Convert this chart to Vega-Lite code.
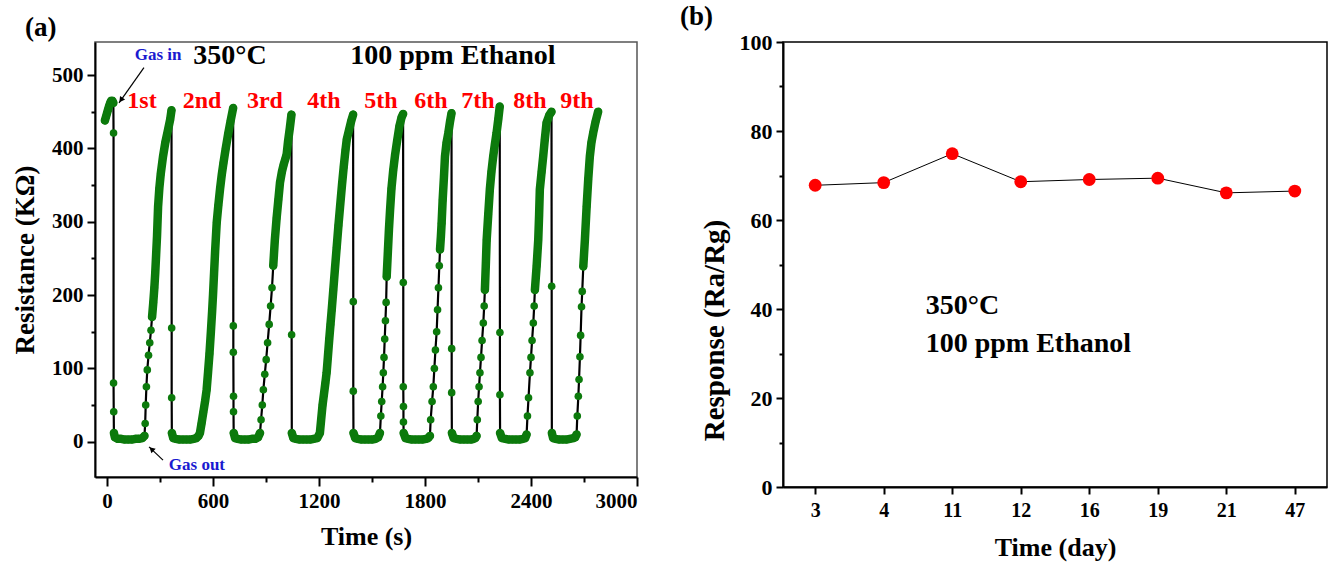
{
  "$schema": "https://vega.github.io/schema/vega-lite/v6.json",
  "background": "white",
  "padding": {"left": 10, "top": 2, "right": 5, "bottom": 5},
  "spacing": 146,
  "bounds": "flush",
  "datasets": {
    "res": [
      {"t":-12,"r":438,"s":1},{"t":-6,"r":443,"s":1},{"t":0,"r":448,"s":1},{"t":6,"r":453,"s":1},{"t":12,"r":458,"s":1},{"t":18,"r":462,"s":1},{"t":24,"r":465,"s":1},{"t":30,"r":465,"s":1},{"t":36,"r":462,"s":1},
      {"t":37,"r":421,"s":0},{"t":37,"r":80,"s":0},{"t":38,"r":41,"s":0},
      {"t":39,"r":12,"s":2},{"t":45,"r":6,"s":2},{"t":60,"r":4,"s":2},{"t":80,"r":4,"s":2},{"t":100,"r":3,"s":2},{"t":120,"r":3,"s":2},{"t":140,"r":3,"s":2},{"t":160,"r":4,"s":2},{"t":180,"r":4,"s":2},{"t":200,"r":5,"s":2},{"t":212,"r":8,"s":2},
      {"t":216,"r":25,"s":0},{"t":219,"r":50,"s":0},{"t":223,"r":75,"s":0},{"t":228,"r":98,"s":0},{"t":235,"r":118,"s":0},{"t":242,"r":135,"s":0},{"t":249,"r":152,"s":0},
      {"t":255,"r":170,"s":3},{"t":262,"r":190,"s":3},{"t":268,"r":210,"s":3},{"t":273,"r":230,"s":3},{"t":278,"r":255,"s":3},{"t":283,"r":280,"s":3},{"t":289,"r":320,"s":3},{"t":296,"r":345,"s":3},{"t":304,"r":365,"s":3},{"t":317,"r":389,"s":3},{"t":330,"r":408,"s":3},{"t":345,"r":425,"s":3},{"t":358,"r":440,"s":3},{"t":365,"r":452,"s":3},
      {"t":366,"r":155,"s":0},{"t":366,"r":60,"s":0},
      {"t":367,"r":12,"s":4},{"t":375,"r":5,"s":4},{"t":390,"r":4,"s":4},{"t":410,"r":3,"s":4},{"t":430,"r":3,"s":4},{"t":450,"r":3,"s":4},{"t":470,"r":3,"s":4},{"t":490,"r":4,"s":4},{"t":505,"r":5,"s":4},{"t":518,"r":8,"s":4},{"t":526,"r":12,"s":4},{"t":535,"r":25,"s":4},{"t":545,"r":40,"s":4},{"t":555,"r":55,"s":4},{"t":564,"r":71,"s":4},{"t":572,"r":95,"s":4},{"t":580,"r":120,"s":4},{"t":588,"r":150,"s":4},{"t":595,"r":178,"s":4},{"t":600,"r":200,"s":4},{"t":606,"r":230,"s":4},{"t":612,"r":260,"s":4},{"t":621,"r":299,"s":4},{"t":630,"r":322,"s":4},{"t":640,"r":345,"s":4},{"t":650,"r":365,"s":4},{"t":659,"r":380,"s":4},{"t":672,"r":400,"s":4},{"t":686,"r":420,"s":4},{"t":700,"r":438,"s":4},{"t":714,"r":455,"s":4},
      {"t":715,"r":158,"s":0},{"t":715,"r":122,"s":0},{"t":716,"r":62,"s":0},{"t":716,"r":41,"s":0},
      {"t":717,"r":12,"s":6},{"t":725,"r":5,"s":6},{"t":740,"r":4,"s":6},{"t":760,"r":3,"s":6},{"t":780,"r":3,"s":6},{"t":800,"r":3,"s":6},{"t":820,"r":4,"s":6},{"t":840,"r":4,"s":6},{"t":855,"r":6,"s":6},{"t":866,"r":12,"s":6},
      {"t":872,"r":30,"s":0},{"t":879,"r":50,"s":0},{"t":885,"r":71,"s":0},{"t":893,"r":92,"s":0},{"t":901,"r":112,"s":0},{"t":909,"r":135,"s":0},{"t":918,"r":160,"s":0},{"t":926,"r":185,"s":0},{"t":934,"r":210,"s":0},
      {"t":941,"r":240,"s":7},{"t":950,"r":275,"s":7},{"t":960,"r":305,"s":7},{"t":970,"r":330,"s":7},{"t":979,"r":353,"s":7},{"t":990,"r":368,"s":7},{"t":1000,"r":378,"s":7},{"t":1010,"r":386,"s":7},{"t":1017,"r":392,"s":7},{"t":1025,"r":410,"s":7},{"t":1035,"r":428,"s":7},{"t":1044,"r":446,"s":7},
      {"t":1045,"r":146,"s":0},
      {"t":1046,"r":12,"s":8},{"t":1055,"r":5,"s":8},{"t":1070,"r":4,"s":8},{"t":1090,"r":3,"s":8},{"t":1110,"r":3,"s":8},{"t":1130,"r":3,"s":8},{"t":1150,"r":3,"s":8},{"t":1170,"r":4,"s":8},{"t":1190,"r":5,"s":8},{"t":1205,"r":12,"s":8},{"t":1212,"r":30,"s":8},{"t":1220,"r":50,"s":8},{"t":1228,"r":65,"s":8},{"t":1236,"r":80,"s":8},{"t":1243,"r":94,"s":8},{"t":1250,"r":115,"s":8},{"t":1258,"r":140,"s":8},{"t":1265,"r":160,"s":8},{"t":1272,"r":180,"s":8},{"t":1281,"r":207,"s":8},{"t":1290,"r":235,"s":8},{"t":1300,"r":265,"s":8},{"t":1310,"r":295,"s":8},{"t":1319,"r":320,"s":8},{"t":1330,"r":350,"s":8},{"t":1340,"r":375,"s":8},{"t":1350,"r":398,"s":8},{"t":1357,"r":412,"s":8},{"t":1370,"r":425,"s":8},{"t":1382,"r":437,"s":8},{"t":1393,"r":446,"s":8},
      {"t":1394,"r":191,"s":0},{"t":1394,"r":69,"s":0},
      {"t":1395,"r":12,"s":10},{"t":1405,"r":5,"s":10},{"t":1420,"r":4,"s":10},{"t":1440,"r":3,"s":10},{"t":1460,"r":3,"s":10},{"t":1480,"r":3,"s":10},{"t":1500,"r":3,"s":10},{"t":1520,"r":4,"s":10},{"t":1535,"r":6,"s":10},{"t":1545,"r":12,"s":10},
      {"t":1550,"r":35,"s":0},{"t":1555,"r":55,"s":0},{"t":1560,"r":75,"s":0},{"t":1564,"r":94,"s":0},{"t":1568,"r":115,"s":0},{"t":1572,"r":140,"s":0},{"t":1576,"r":165,"s":0},{"t":1580,"r":190,"s":0},
      {"t":1583,"r":225,"s":11},{"t":1590,"r":260,"s":11},{"t":1596,"r":290,"s":11},{"t":1602,"r":315,"s":11},{"t":1610,"r":345,"s":11},{"t":1620,"r":370,"s":11},{"t":1630,"r":390,"s":11},{"t":1642,"r":410,"s":11},{"t":1655,"r":430,"s":11},{"t":1667,"r":442,"s":11},{"t":1676,"r":447,"s":11},
      {"t":1677,"r":217,"s":0},{"t":1677,"r":75,"s":0},{"t":1678,"r":48,"s":0},{"t":1678,"r":27,"s":0},
      {"t":1679,"r":12,"s":12},{"t":1690,"r":5,"s":12},{"t":1705,"r":4,"s":12},{"t":1725,"r":3,"s":12},{"t":1745,"r":3,"s":12},{"t":1765,"r":3,"s":12},{"t":1785,"r":3,"s":12},{"t":1805,"r":4,"s":12},{"t":1818,"r":5,"s":12},{"t":1828,"r":8,"s":12},
      {"t":1832,"r":30,"s":0},{"t":1840,"r":55,"s":0},{"t":1847,"r":75,"s":0},{"t":1853,"r":100,"s":0},{"t":1859,"r":125,"s":0},{"t":1866,"r":150,"s":0},{"t":1871,"r":180,"s":0},{"t":1876,"r":210,"s":0},{"t":1881,"r":240,"s":0},
      {"t":1885,"r":262,"s":13},{"t":1890,"r":280,"s":13},{"t":1894,"r":298,"s":13},{"t":1900,"r":330,"s":13},{"t":1907,"r":360,"s":13},{"t":1913,"r":389,"s":13},{"t":1922,"r":408,"s":13},{"t":1932,"r":421,"s":13},{"t":1942,"r":437,"s":13},{"t":1950,"r":448,"s":13},
      {"t":1951,"r":127,"s":0},{"t":1951,"r":67,"s":0},
      {"t":1952,"r":12,"s":14},{"t":1962,"r":5,"s":14},{"t":1980,"r":4,"s":14},{"t":2000,"r":3,"s":14},{"t":2020,"r":3,"s":14},{"t":2040,"r":3,"s":14},{"t":2060,"r":3,"s":14},{"t":2075,"r":4,"s":14},{"t":2085,"r":5,"s":14},{"t":2092,"r":8,"s":14},
      {"t":2096,"r":30,"s":0},{"t":2101,"r":55,"s":0},{"t":2106,"r":75,"s":0},{"t":2111,"r":94,"s":0},{"t":2117,"r":115,"s":0},{"t":2123,"r":138,"s":0},{"t":2130,"r":162,"s":0},{"t":2135,"r":185,"s":0},
      {"t":2139,"r":207,"s":15},{"t":2144,"r":240,"s":15},{"t":2149,"r":275,"s":15},{"t":2158,"r":310,"s":15},{"t":2167,"r":344,"s":15},{"t":2176,"r":368,"s":15},{"t":2186,"r":389,"s":15},{"t":2195,"r":405,"s":15},{"t":2205,"r":421,"s":15},{"t":2215,"r":440,"s":15},{"t":2223,"r":457,"s":15},
      {"t":2224,"r":149,"s":0},{"t":2224,"r":64,"s":0},
      {"t":2225,"r":12,"s":16},{"t":2235,"r":5,"s":16},{"t":2255,"r":4,"s":16},{"t":2275,"r":3,"s":16},{"t":2295,"r":3,"s":16},{"t":2315,"r":3,"s":16},{"t":2335,"r":3,"s":16},{"t":2355,"r":4,"s":16},{"t":2367,"r":5,"s":16},{"t":2375,"r":10,"s":16},
      {"t":2380,"r":35,"s":0},{"t":2386,"r":60,"s":0},{"t":2394,"r":94,"s":0},{"t":2400,"r":115,"s":0},{"t":2406,"r":138,"s":0},{"t":2413,"r":162,"s":0},{"t":2418,"r":185,"s":0},
      {"t":2422,"r":207,"s":17},{"t":2432,"r":240,"s":17},{"t":2441,"r":275,"s":17},{"t":2446,"r":310,"s":17},{"t":2450,"r":344,"s":17},{"t":2460,"r":368,"s":17},{"t":2469,"r":389,"s":17},{"t":2478,"r":412,"s":17},{"t":2488,"r":435,"s":17},{"t":2503,"r":445,"s":17},{"t":2516,"r":450,"s":17},
      {"t":2517,"r":212,"s":0},
      {"t":2518,"r":12,"s":18},{"t":2525,"r":5,"s":18},{"t":2540,"r":4,"s":18},{"t":2560,"r":3,"s":18},{"t":2580,"r":3,"s":18},{"t":2600,"r":3,"s":18},{"t":2620,"r":4,"s":18},{"t":2640,"r":5,"s":18},{"t":2650,"r":6,"s":18},{"t":2658,"r":10,"s":18},
      {"t":2662,"r":35,"s":0},{"t":2668,"r":62,"s":0},{"t":2672,"r":85,"s":0},{"t":2677,"r":116,"s":0},{"t":2681,"r":145,"s":0},{"t":2686,"r":184,"s":0},{"t":2690,"r":205,"s":0},
      {"t":2696,"r":239,"s":19},{"t":2705,"r":275,"s":19},{"t":2715,"r":321,"s":19},{"t":2724,"r":358,"s":19},{"t":2733,"r":389,"s":19},{"t":2742,"r":408,"s":19},{"t":2752,"r":421,"s":19},{"t":2766,"r":437,"s":19},{"t":2780,"r":450,"s":19}
    ],
    "resp": [
      {"day":"3","resp":67.8},{"day":"4","resp":68.4},{"day":"11","resp":74.9},{"day":"12","resp":68.6},
      {"day":"16","resp":69.1},{"day":"19","resp":69.4},{"day":"21","resp":66.1},{"day":"47","resp":66.5}
    ]
  },
  "hconcat": [
    {
      "width": 542,
      "height": 435,
      "view": {"stroke": "#555555", "strokeWidth": 1.5},
      "title": {"text": "(a)", "anchor": "start", "frame": "group", "dx": -70, "offset": 0, "fontSize": 27, "font": "Liberation Serif", "fontWeight": "bold", "color": "black"},
      "encoding": {
        "x": {"field": "t", "type": "quantitative",
          "scale": {"domain": [-68, 3000], "nice": false, "zero": false},
          "axis": {"title": "Time (s)", "values": [0,300,600,900,1200,1500,1800,2100,2400,2700,3000], "format": "d",
            "labelExpr": "datum.value % 600 === 0 ? datum.label : ''",
            "tickSize": {"condition": {"test": "datum.value % 600 === 0", "value": 9}, "value": 5},
            "labelFontSize": 21, "labelPadding": 4, "titleFontSize": 26, "titlePadding": 12}},
        "y": {"field": "r", "type": "quantitative",
          "scale": {"domain": [-48, 545], "nice": false, "zero": false},
          "axis": {"title": "Resistance (KΩ)", "values": [0,50,100,150,200,250,300,350,400,450,500],
            "labelExpr": "datum.value % 100 === 0 ? datum.label : ''",
            "tickSize": {"condition": {"test": "datum.value % 100 === 0", "value": 8}, "value": 4},
            "labelFontSize": 21, "labelPadding": 4, "titleFontSize": 27, "titlePadding": 12}}
      },
      "layer": [
        {"data": {"name": "res"}, "mark": {"type": "line", "color": "black", "strokeWidth": 2.2}},
        {"data": {"name": "res"}, "transform": [{"filter": "datum.s > 0"}],
          "mark": {"type": "line", "color": "#0c7a0c", "strokeWidth": 8.5, "strokeCap": "round", "strokeJoin": "round"},
          "encoding": {"detail": {"field": "s", "type": "nominal"}}},
        {"data": {"name": "res"}, "mark": {"type": "circle", "color": "#0c7a0c", "size": 58, "opacity": 1}},
        {"data": {"values": [
            {"t":198,"r":464,"lab":"1st"},{"t":538,"r":464,"lab":"2nd"},{"t":894,"r":464,"lab":"3rd"},
            {"t":1228,"r":464,"lab":"4th"},{"t":1551,"r":464,"lab":"5th"},{"t":1834,"r":464,"lab":"6th"},
            {"t":2100,"r":464,"lab":"7th"},{"t":2394,"r":464,"lab":"8th"},{"t":2660,"r":464,"lab":"9th"}]},
          "mark": {"type": "text", "color": "#ff0000", "fontSize": 24, "fontWeight": "bold", "font": "Liberation Serif", "align": "center", "baseline": "middle"},
          "encoding": {"text": {"field": "lab"}}},
        {"data": {"values": [{"t":696,"r":526,"lab":"350°C"},{"t":1958,"r":526,"lab":"100 ppm Ethanol"}]},
          "mark": {"type": "text", "color": "black", "fontSize": 28, "fontWeight": "bold", "font": "Liberation Serif", "align": "center", "baseline": "middle"},
          "encoding": {"text": {"field": "lab"}}},
        {"data": {"values": [{"t":289,"r":527,"lab":"Gas in"},{"t":509,"r":-31,"lab":"Gas out"}]},
          "mark": {"type": "text", "color": "#1a1ad0", "fontSize": 17, "fontWeight": "bold", "font": "Liberation Serif", "align": "center", "baseline": "middle"},
          "encoding": {"text": {"field": "lab"}}},
        {"data": {"values": [{"t":209,"r":510,"t2":68,"r2":462},{"t":317,"r":-25,"t2":238,"r2":-7}]},
          "mark": {"type": "rule", "color": "black", "strokeWidth": 1.2},
          "encoding": {"x2": {"field": "t2"}, "y2": {"field": "r2"}}},
        {"data": {"values": [{"t":79,"r":466}]},
          "mark": {"type": "point", "shape": "triangle-up", "filled": true, "color": "black", "size": 40, "angle": 216, "opacity": 1}},
        {"data": {"values": [{"t":252,"r":-10}]},
          "mark": {"type": "point", "shape": "triangle-up", "filled": true, "color": "black", "size": 40, "angle": 313, "opacity": 1}}
      ]
    },
    {
      "width": 544,
      "height": 445,
      "view": {"stroke": "black", "strokeWidth": 1.5},
      "title": {"text": "(b)", "anchor": "start", "frame": "group", "dx": -103, "offset": 0, "fontSize": 27, "font": "Liberation Serif", "fontWeight": "bold", "color": "black"},
      "encoding": {
        "x": {"field": "day", "type": "ordinal",
          "scale": {"type": "point", "domain": ["3","4","11","12","16","19","21","47"], "padding": 0.47},
          "axis": {"title": "Time (day)", "labelAngle": 0, "tickSize": 7, "labelFontSize": 20, "labelPadding": 6, "titleFontSize": 26, "titlePadding": 14}},
        "y": {"field": "resp", "type": "quantitative",
          "scale": {"domain": [0, 100], "nice": false},
          "axis": {"title": "Response (Ra/Rg)", "values": [0,10,20,30,40,50,60,70,80,90,100],
            "labelExpr": "datum.value % 20 === 0 ? datum.label : ''",
            "tickSize": {"condition": {"test": "datum.value % 20 === 0", "value": 7}, "value": 4},
            "labelFontSize": 22, "labelPadding": 4, "titleFontSize": 29, "titlePadding": 10, "titleY": 288}}
      },
      "layer": [
        {"data": {"name": "resp"}, "mark": {"type": "line", "color": "black", "strokeWidth": 1}},
        {"data": {"name": "resp"}, "mark": {"type": "circle", "color": "#ff0000", "size": 165, "opacity": 1}},
        {"data": {"values": [{"day":"4","resp":40.6,"lab":"350°C"},{"day":"4","resp":32.1,"lab":"100 ppm Ethanol"}]},
          "mark": {"type": "text", "color": "black", "fontSize": 28, "fontWeight": "bold", "font": "Liberation Serif", "align": "left", "baseline": "middle", "dx": 42},
          "encoding": {"text": {"field": "lab"}}}
      ]
    }
  ],
  "config": {
    "font": "Liberation Serif",
    "axis": {"grid": false, "domainColor": "black", "domainWidth": 2, "tickColor": "black", "tickWidth": 2,
      "labelColor": "black", "labelFont": "Liberation Serif", "labelFontWeight": "bold",
      "titleFont": "Liberation Serif", "titleFontWeight": "bold", "titleColor": "black", "labelOverlap": false}
  }
}
